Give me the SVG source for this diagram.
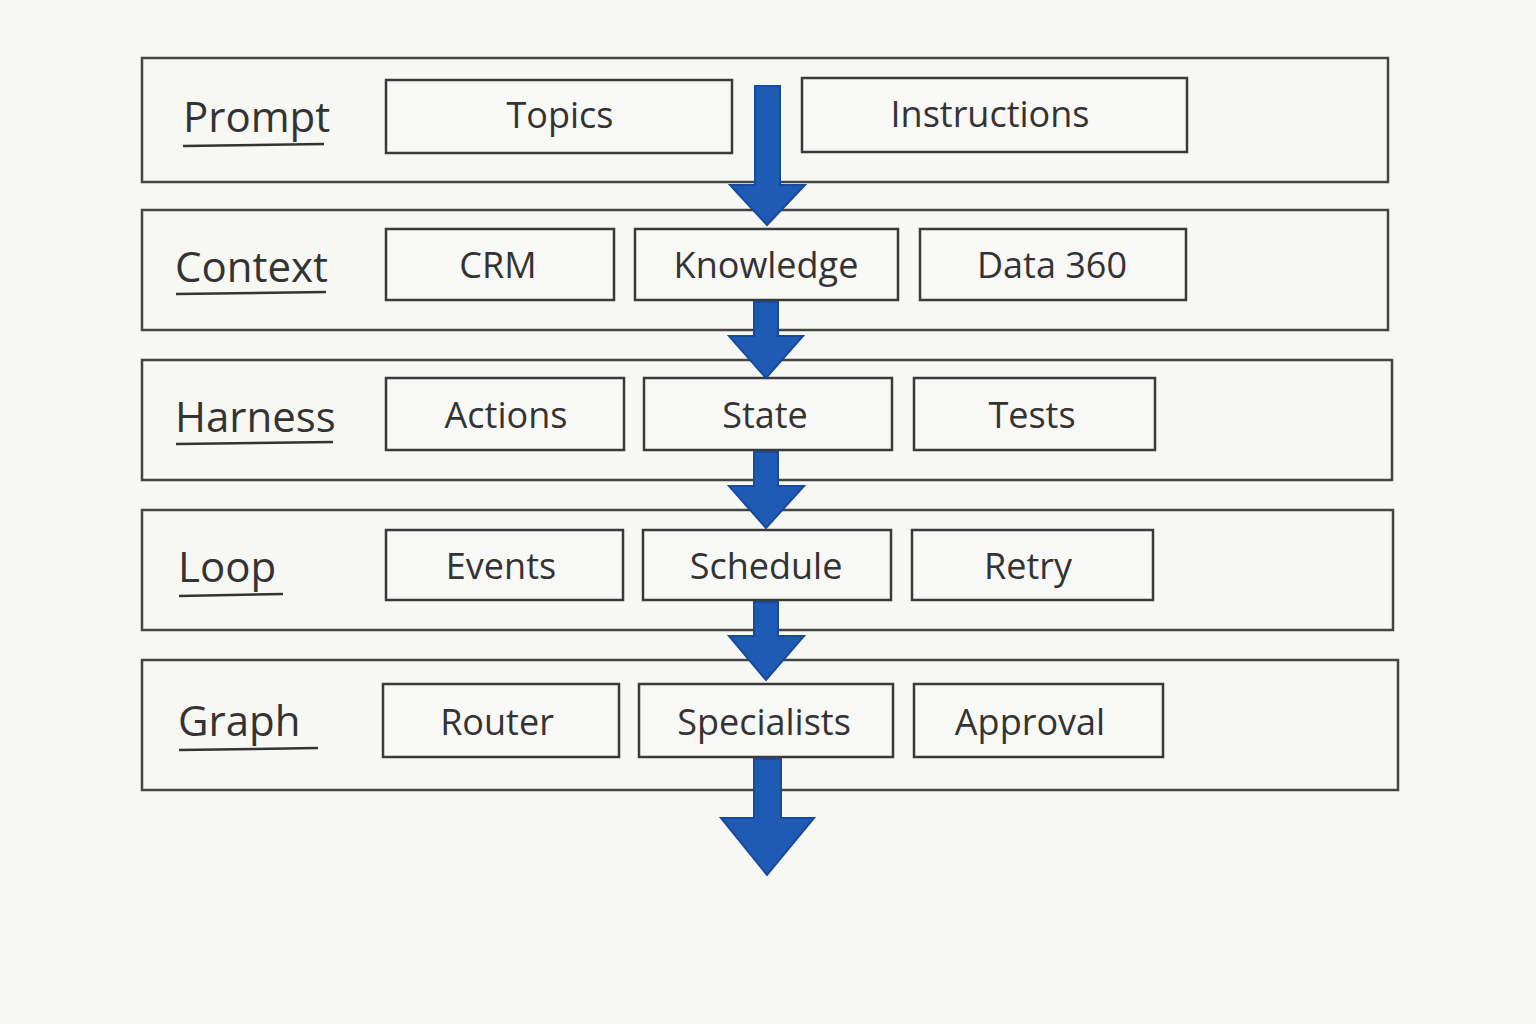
<svg xmlns="http://www.w3.org/2000/svg" width="1536" height="1024" viewBox="0 0 1536 1024">
<defs>
<style>
.band{fill:none;stroke:#444;stroke-width:2.5}
.box{fill:#f8f8f6;stroke:#3a3a3a;stroke-width:2.5}
.lbl{font-family:"Open Sans","Liberation Sans",sans-serif;font-size:42px;fill:#333}
.t{font-family:"Open Sans","Liberation Sans",sans-serif;font-size:36px;fill:#333;text-anchor:middle}
.ul{stroke:#333;stroke-width:2.5;fill:none}
.arr{fill:#1f5bb5;stroke:#174a9a;stroke-width:2}
</style>
</defs>
<rect width="1536" height="1024" fill="#f7f7f4"/>
<g id="prompt">
<rect class="band" x="142" y="58" width="1246" height="124"/>
<text class="lbl" x="183" y="132">Prompt</text><path class="ul" d="M183 146 L324 144"/>
<g id="topics"><rect class="box" x="386" y="80" width="346" height="73"/><text class="t" x="560" y="128">Topics</text></g>
<g id="instructions"><rect class="box" x="802" y="78" width="385" height="74"/><text class="t" x="990" y="127">Instructions</text></g>
</g>
<g id="context">
<rect class="band" x="142" y="210" width="1246" height="120"/>
<text class="lbl" x="175" y="282">Context</text><path class="ul" d="M176 294 L326 292"/>
<g id="crm"><rect class="box" x="386" y="229" width="228" height="71"/><text class="t" x="498" y="278">CRM</text></g>
<g id="knowledge"><rect class="box" x="635" y="229" width="263" height="71"/><text class="t" x="766" y="278">Knowledge</text></g>
<g id="data360"><rect class="box" x="920" y="229" width="266" height="71"/><text class="t" x="1052" y="278">Data 360</text></g>
</g>
<g id="harness">
<rect class="band" x="142" y="360" width="1250" height="120"/>
<text class="lbl" x="175" y="432">Harness</text><path class="ul" d="M176 444 L333 442"/>
<g id="actions"><rect class="box" x="386" y="378" width="238" height="72"/><text class="t" x="506" y="428">Actions</text></g>
<g id="state"><rect class="box" x="644" y="378" width="248" height="72"/><text class="t" x="765" y="428">State</text></g>
<g id="tests"><rect class="box" x="914" y="378" width="241" height="72"/><text class="t" x="1032" y="428">Tests</text></g>
</g>
<g id="loop">
<rect class="band" x="142" y="510" width="1251" height="120"/>
<text class="lbl" x="178" y="582">Loop</text><path class="ul" d="M179 596 L283 594"/>
<g id="events"><rect class="box" x="386" y="530" width="237" height="70"/><text class="t" x="501" y="579">Events</text></g>
<g id="schedule"><rect class="box" x="643" y="530" width="248" height="70"/><text class="t" x="766" y="579">Schedule</text></g>
<g id="retry"><rect class="box" x="912" y="530" width="241" height="70"/><text class="t" x="1028" y="579">Retry</text></g>
</g>
<g id="graph">
<rect class="band" x="142" y="660" width="1256" height="130"/>
<text class="lbl" x="178" y="736">Graph</text><path class="ul" d="M179 750 L318 748"/>
<g id="router"><rect class="box" x="383" y="684" width="236" height="73"/><text class="t" x="497" y="735">Router</text></g>
<g id="specialists"><rect class="box" x="639" y="684" width="254" height="73"/><text class="t" x="764" y="735">Specialists</text></g>
<g id="approval"><rect class="box" x="914" y="684" width="249" height="73"/><text class="t" x="1030" y="735">Approval</text></g>
</g>
<g id="connectors">
<path class="arr" d="M755 86 L780 86 L780 185 L805 185 L767 225 L730 185 L755 185 Z"/>
<path class="arr" d="M754 302 L778 302 L778 336 L803 336 L766 378 L729 336 L754 336 Z"/>
<path class="arr" d="M754 452 L778 452 L778 486 L804 486 L766 528 L729 486 L754 486 Z"/>
<path class="arr" d="M754 602 L778 602 L778 636 L804 636 L766 680 L729 636 L754 636 Z"/>
<path class="arr" d="M754 759 L781 759 L781 818 L814 818 L767 875 L721 818 L754 818 Z"/>
</g>
</svg>
